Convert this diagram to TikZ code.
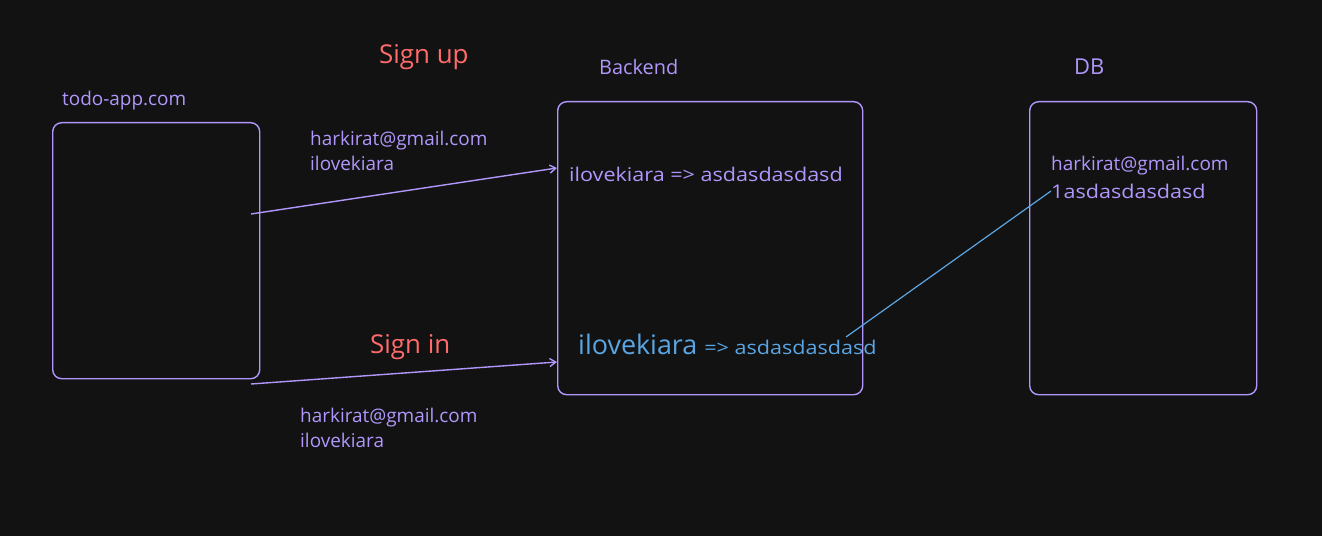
\documentclass[tikz,border=0pt]{standalone}
\usepackage{fontspec}
\setmainfont{Open Sans}
\newfontfamily\widefont[FakeStretch=1.14]{Open Sans}
\usepackage{xcolor}
\definecolor{bg}{HTML}{121212}
\definecolor{purple}{HTML}{B197FC}
\definecolor{red}{HTML}{FF6B6B}
\definecolor{blue}{HTML}{5AA6E4}
\usetikzlibrary{arrows.meta, positioning}

\begin{document}
\begin{tikzpicture}[x=1bp, y=-1bp, every node/.style={text=purple, inner sep=0pt, font=\fontsize{19}{25}\selectfont},
  box/.style={draw=purple, line width=1.4bp, rounded corners=9bp, anchor=north west},
  flow/.style={draw=purple, line width=1.4bp, -{Straight Barb[length=6bp, width=8bp]}},
  title/.style={anchor=west, text=red, font=\fontsize{26}{25}\selectfont}]
  % background
  \fill[bg] (0,0) rectangle (1322,536);

  % browser
  \node[box, minimum width=207bp, minimum height=256bp] (todo) at (52,122) {};
  \node[anchor=west] (todolabel) at (62,101) {todo-app.com};

  % backend
  \node[box, minimum width=305bp, minimum height=293bp] (backend) at (557,101) {};
  \node[anchor=west, font=\fontsize{20}{25}\selectfont] (backendlabel) at (599,67) {Backend};
  \node[anchor=west, font=\widefont\fontsize{19}{25}\selectfont] (hash) at (569,174) {ilovekiara => asdasdasdasd};
  \node[anchor=west, text=blue] (check) at (578,344) {\fontsize{27}{25}\selectfont ilovekiara \widefont\fontsize{19}{25}\selectfont => asdasdasdasd};

  % database
  \node[box, minimum width=227bp, minimum height=293bp] (db) at (1029,101) {};
  \node[anchor=west, font=\fontsize{22}{25}\selectfont] (dblabel) at (1074,67) {DB};
  \node[anchor=west] (dbmail) at (1051,166) {harkirat@gmail.com};
  \node[anchor=west, font=\widefont\fontsize{19}{25}\selectfont] (dbhash) at (1051,191) {1asdasdasdasd};

  % sign up
  \node[title] (signup) at (379,57) {Sign up};
  \node[anchor=west, align=left] (upcreds) at (310,151) {harkirat@gmail.com\\ilovekiara};
  \coordinate (upout) at (251,214);
  \coordinate (upin) at (557,168);
  \draw[flow] (upout) -- (upin);

  % sign in
  \node[title] (signin) at (370,347) {Sign in};
  \node[anchor=west, align=left] (increds) at (300,428) {harkirat@gmail.com\\ilovekiara};
  \coordinate (inout) at (251,384);
  \coordinate (inin) at (557,362);
  \draw[flow] (inout) -- (inin);

  % lookup
  \coordinate (lookup) at (846,337);
  \draw[blue, line width=1.2bp] (lookup) -- (dbhash.west);
\end{tikzpicture}
\end{document}
